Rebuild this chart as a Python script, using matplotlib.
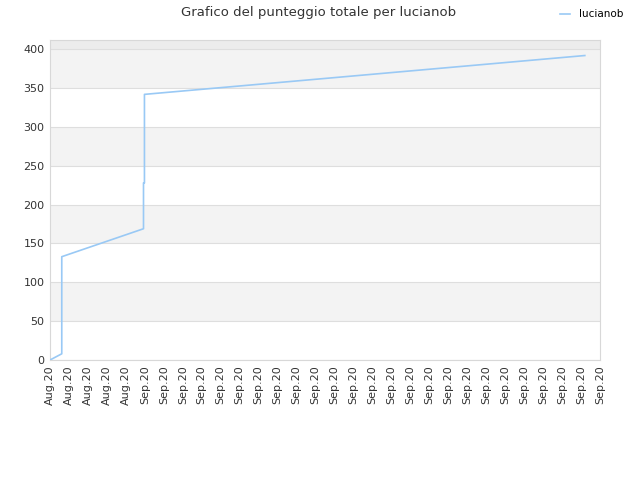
import matplotlib
matplotlib.use('Agg')
import matplotlib.pyplot as plt
import numpy as np

# data (x in tick units)
x_vals = [0.0, 0.62, 0.62, 4.93, 4.93, 4.98, 4.98, 28.2]
scores = [0, 8, 133, 169, 228, 228, 342, 392]
tick_labels = ['Aug.20'] * 5 + ['Sep.20'] * 25
y_ticks = [0, 50, 100, 150, 200, 250, 300, 350, 400]

fig = plt.figure(figsize=(6.4, 4.8), dpi=100)
ax = fig.add_axes([50 / 640, 120 / 480, 550 / 640, 320 / 480])

# alternating background bands
for i, lo in enumerate(y_ticks[:-1]):
    if i % 2 == 1:
        ax.axhspan(lo, lo + 50, color='#f3f3f3', zorder=0, lw=0)
ax.axhspan(400, 412, color='#ececec', zorder=0, lw=0)
for y in y_ticks:
    ax.axhline(y, color='#dedede', lw=0.8, zorder=1)

ax.plot(x_vals, scores, color='#99c9f5', lw=1.2, label='lucianob', zorder=3)

ax.set_xlim(0, len(tick_labels) - 1)
ax.set_ylim(0, 412)
ax.set_yticks(y_ticks)
ax.set_xticks(np.arange(len(tick_labels)))
ax.set_xticklabels(tick_labels, rotation=90)
ax.tick_params(length=0, labelsize=8, colors='#333333', pad=4)

for s in ax.spines.values():
    s.set_color('#d8d8d8')

fig.text(0.497, 0.988, 'Grafico del punteggio totale per lucianob',
         ha='center', va='top', fontsize=9.5, color='#333333')
fig.legend(loc='upper right', bbox_to_anchor=(0.988, 1.0), frameon=False,
           fontsize=7.5, handlelength=1.0, handletextpad=0.8)

fig.savefig('out.png', dpi=100)
